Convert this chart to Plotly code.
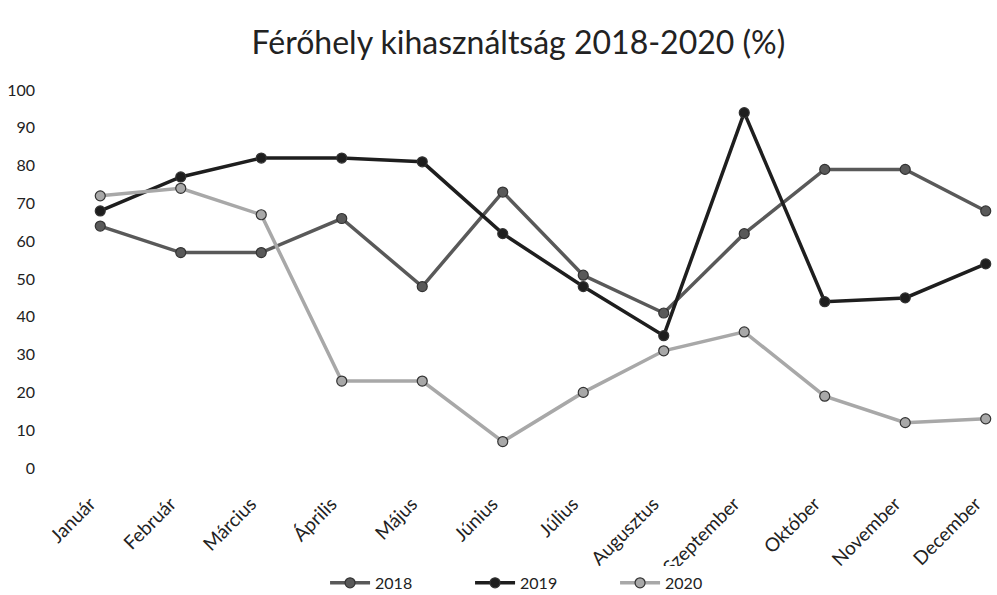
import plotly.graph_objects as go

months = ["Január", "Február", "Március", "Április", "Május", "Június",
          "Július", "Augusztus", "Szeptember", "Október", "November", "December"]
y2018 = [64, 57, 57, 66, 48, 73, 51, 41, 62, 79, 79, 68]
y2019 = [68, 77, 82, 82, 81, 62, 48, 35, 94, 44, 45, 54]
y2020 = [72, 74, 67, 23, 23, 7, 20, 31, 36, 19, 12, 13]
series = [("2018", y2018, "#595959"), ("2019", y2019, "#1e1e1e"), ("2020", y2020, "#a8a8a8")]

fig = go.Figure()
for name, vals, col in series:
    fig.add_trace(go.Scatter(
        x=list(range(len(months))), y=vals, name=name, mode="lines+markers",
        cliponaxis=False,
        line=dict(color=col, width=3.5),
        marker=dict(symbol="circle", size=10, color=col,
                    line=dict(color="#333333", width=1.2)),
    ))

font_fam = "Lato, 'Open Sans', sans-serif"
fig.update_layout(
    width=997, height=595,
    margin=dict(l=60, r=0, t=90, b=127, autoexpand=False),
    paper_bgcolor="white", plot_bgcolor="white",
    title=dict(text="Férőhely kihasználtság 2018-2020 (%)", x=0.52, xanchor="center",
               y=0.928, yanchor="middle",
               font=dict(family=font_fam, size=32, color="#222222")),
    font=dict(family=font_fam, color="#222222"),
    showlegend=True,
    legend=dict(orientation="h", x=0.515, xanchor="center", y=-0.304, yanchor="middle",
                font=dict(size=16, color="#222222"), itemwidth=40,
                entrywidth=90, entrywidthmode="pixels"),
)
fig.update_xaxes(
    tickmode="array", tickvals=list(range(len(months))),
    ticktext=[m + "\u00a0\u00a0\u00a0" for m in months],
    range=[-0.5, 11.14], tickangle=-45, showgrid=False, zeroline=False,
    showline=False, ticks="", tickfont=dict(size=19, color="#222222"),
    automargin=False, ticklabelstandoff=10, ticklabeloverflow="allow",
)
fig.update_yaxes(
    range=[0, 100], tickvals=list(range(0, 101, 10)), showgrid=False,
    zeroline=False, showline=False, ticks="", ticklabelstandoff=24,
    tickfont=dict(size=16, color="#222222"), automargin=False,
)

fig.write_html("out.html", post_script="document.body.style.margin='0';",
               config={"displayModeBar": False})
